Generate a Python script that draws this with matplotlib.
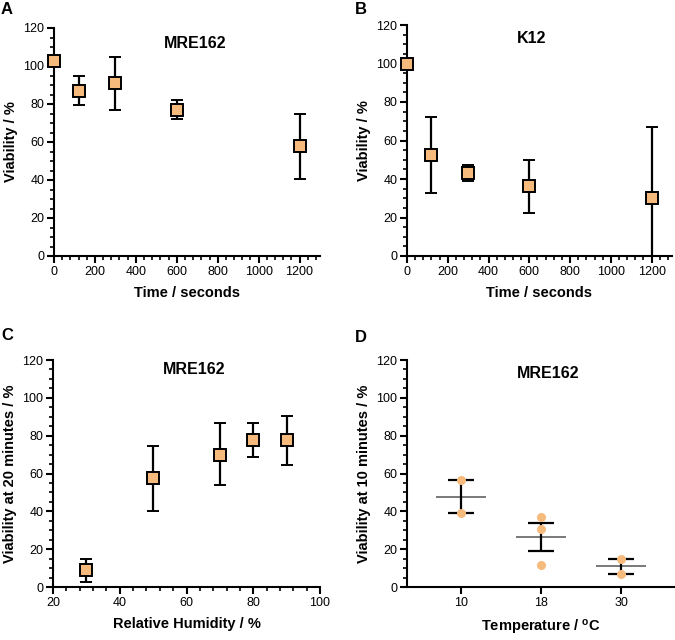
import matplotlib
matplotlib.use("Agg")
import matplotlib.pyplot as plt
from matplotlib.ticker import MultipleLocator, AutoMinorLocator

plt.rcParams['font.family'] = ['Liberation Sans', 'DejaVu Sans']
plt.rcParams['mathtext.fontset'] = 'custom'
plt.rcParams['mathtext.rm'] = 'Liberation Sans'
plt.rcParams['mathtext.bf'] = 'Liberation Sans:bold'

# Panel A: MRE162 viability vs time
a_time = [0, 120, 300, 600, 1200]
a_mean = [102.5, 86.8, 91.0, 76.7, 57.9]
a_low = [102.5, 79.3, 77.0, 72.3, 40.7]
a_high = [102.5, 94.7, 105.0, 81.9, 74.9]

# Panel B: K12 viability vs time
b_time = [0, 120, 300, 600, 1200]
b_mean = [100.0, 52.4, 43.0, 36.2, 30.3]
b_low = [100.0, 32.9, 38.8, 22.4, 0.0]
b_high = [100.0, 72.3, 47.5, 50.1, 67.1]

# Panel C: MRE162 viability vs relative humidity
c_rh = [30, 50, 70, 80, 90]
c_mean = [8.8, 57.7, 70.0, 77.6, 77.6]
c_low = [2.6, 40.2, 53.8, 68.8, 64.6]
c_high = [14.8, 74.6, 86.5, 86.6, 90.5]

# Panel D: MRE162 viability vs temperature
d_temps = ['10', '18', '30']
d_points = [[56.5, 39.2], [37.0, 30.5, 11.5], [14.6, 7.1]]
d_mean = [47.8, 26.3, 10.9]
d_low = [39.2, 18.9, 7.1]
d_high = [56.5, 34.0, 14.6]

ORANGE = '#F6BA7C'

fig = plt.figure(figsize=(6.75, 6.4), dpi=100)
W, H = 675, 640

def add_ax(l, r, t, b):
    return fig.add_axes([l / W, 1 - b / H, (r - l) / W, (b - t) / H])

axA = add_ax(54, 320, 28, 256)
axB = add_ax(407, 672, 25, 256)
axC = add_ax(53, 320, 360, 587)
axD = add_ax(407, 674, 360, 587)

def style(ax):
    for s in ['top', 'right']:
        ax.spines[s].set_visible(False)
    for s in ['left', 'bottom']:
        ax.spines[s].set_linewidth(1.5)
        ax.spines[s].set_color('black')
    ax.tick_params(which='major', direction='out', length=5, width=1.5, labelsize=9, pad=2, color='black')
    ax.tick_params(which='minor', direction='out', length=3, width=1.2, color='black')
    ax.set_ylim(0, 120)
    ax.yaxis.set_major_locator(MultipleLocator(20))
    ax.yaxis.set_minor_locator(AutoMinorLocator(4))

def square_panel(ax, x, m, lo, hi):
    yerr = [[mi - l for mi, l in zip(m, lo)], [h - mi for mi, h in zip(m, hi)]]
    ax.errorbar(x, m, yerr=yerr, fmt='s', color='black', ecolor='black',
                elinewidth=1.6, capsize=4, capthick=1.6,
                markersize=8.5, markerfacecolor=ORANGE, markeredgecolor='black',
                markeredgewidth=1.4, clip_on=False, zorder=3)

for ax in (axA, axB, axC, axD):
    style(ax)

# A
square_panel(axA, a_time, a_mean, a_low, a_high)
axA.set_xlim(0, 1300)
axA.xaxis.set_major_locator(MultipleLocator(200))
axA.xaxis.set_minor_locator(AutoMinorLocator(5))
axA.set_xlabel('Time / seconds', fontsize=10.5, fontweight='bold', labelpad=6)
axA.set_ylabel('Viability / %', fontsize=10.5, fontweight='bold', labelpad=4)
axA.text(0.53, 0.93, 'MRE162', transform=axA.transAxes, ha='center', va='center',
         fontsize=11.5, fontweight='bold')

# B
square_panel(axB, b_time, b_mean, b_low, b_high)
axB.set_xlim(0, 1300)
axB.xaxis.set_major_locator(MultipleLocator(200))
axB.xaxis.set_minor_locator(AutoMinorLocator(5))
axB.set_xlabel('Time / seconds', fontsize=10.5, fontweight='bold', labelpad=6)
axB.set_ylabel('Viability / %', fontsize=10.5, fontweight='bold', labelpad=4)
axB.text(0.47, 0.94, 'K12', transform=axB.transAxes, ha='center', va='center',
         fontsize=11.5, fontweight='bold')

# C
square_panel(axC, c_rh, c_mean, c_low, c_high)
axC.set_xlim(20, 100)
axC.xaxis.set_major_locator(MultipleLocator(20))
axC.xaxis.set_minor_locator(AutoMinorLocator(5))
axC.set_xlabel('Relative Humidity / %', fontsize=10.5, fontweight='bold', labelpad=6)
axC.set_ylabel('Viability at 20 minutes / %', fontsize=10.5, fontweight='bold', labelpad=4)
axC.text(0.53, 0.96, 'MRE162', transform=axC.transAxes, ha='center', va='center',
         fontsize=11.5, fontweight='bold')

# D
xs = list(range(len(d_temps)))
axD.hlines(d_mean, [x - 0.31 for x in xs], [x + 0.31 for x in xs],
           color='#6e6e6e', linewidth=1.3, zorder=3)
yerr = [[m - l for m, l in zip(d_mean, d_low)], [h - m for m, h in zip(d_mean, d_high)]]
axD.errorbar(xs, d_mean, yerr=yerr, fmt='none', ecolor='black', elinewidth=1.6,
             capsize=9.5, capthick=1.6, zorder=4)
for i, pts in enumerate(d_points):
    axD.plot([i] * len(pts), pts, 'o', color=ORANGE, markersize=6.5,
             markeredgewidth=0, zorder=5)
axD.set_xlim(-0.675, 2.66)
axD.set_xticks(xs)
axD.set_xticklabels(d_temps)
axD.set_xlabel(r'Temperature / $\mathbf{^{o}}$C', fontsize=10.5, fontweight='bold', labelpad=7)
axD.set_ylabel('Viability at 10 minutes / %', fontsize=10.5, fontweight='bold', labelpad=4)
axD.text(0.53, 0.94, 'MRE162', transform=axD.transAxes, ha='center', va='center',
         fontsize=11.5, fontweight='bold')

# Panel letters
for lbl, x, y in [('A', 1, 2), ('B', 355, 2), ('C', 1, 328), ('D', 355, 330)]:
    fig.text(x / W, 1 - y / H, lbl, ha='left', va='top', fontsize=12, fontweight='bold')

fig.savefig('out.png', dpi=100)
